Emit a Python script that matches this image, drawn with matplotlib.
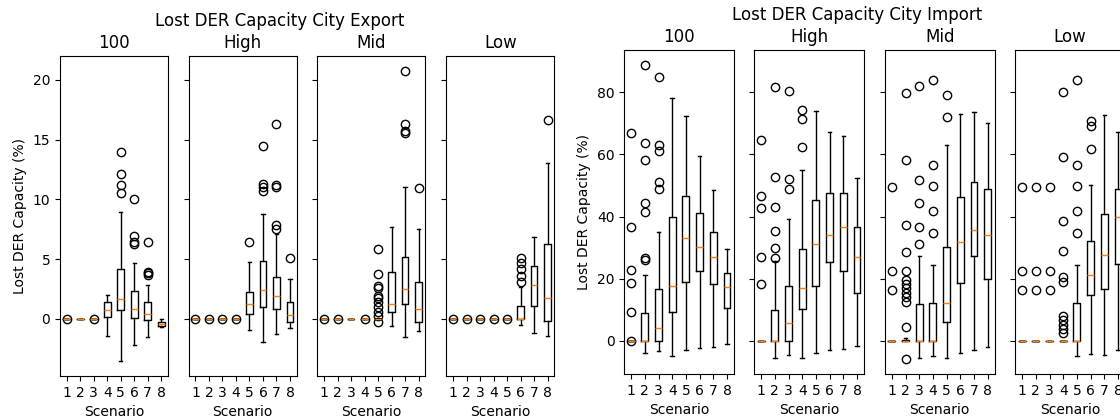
import matplotlib
matplotlib.use("Agg")
import matplotlib.pyplot as plt

# scenarios on the x axis and the four panels of each group
scenarios = [1, 2, 3, 4, 5, 6, 7, 8]
panels = ["100", "High", "Mid", "Low"]

# Lost DER capacity, city export (%), box stats per panel (one value per scenario)
export_q1 = [
    [0, 0, 0, 0.13, 0.75, 0.06, -0.08, -0.59],
    [0, 0, 0, 0, 0.39, 1.0, 0.84, -0.28],
    [0, 0, 0, 0, 0, 0.53, 1.23, -0.25],
    [0, 0, 0, 0, 0, 0, 1.09, -0.22],
]
export_med = [
    [0, 0, 0, 0.7, 1.65, 0.86, 0.42, -0.42],
    [0, 0, 0, 0, 1.26, 2.43, 1.95, 0.28],
    [0, 0, 0, 0, 0, 1.26, 2.48, 0.84],
    [0, 0, 0, 0, 0, 0, 2.79, 1.73],
]
export_q3 = [
    [0, 0, 0, 1.39, 4.13, 2.29, 1.37, -0.25],
    [0, 0, 0, 0, 2.26, 4.85, 3.46, 1.37],
    [0, 0, 0, 0, 0, 3.88, 5.16, 3.04],
    [0, 0, 0, 0, 0, 1.09, 4.38, 6.28],
]
export_lo = [
    [0, 0, 0, -1.46, -3.57, -2.18, -1.56, -0.67],
    [0, 0, 0, 0, -0.95, -1.92, -1.31, -0.73],
    [0, 0, 0, 0, 0, -0.64, -1.53, -1.0],
    [0, 0, 0, 0, 0, -0.56, -1.23, -1.48],
]
export_hi = [
    [0, 0, 0, 1.98, 8.95, 4.69, 2.82, -0.02],
    [0, 0, 0, 0, 4.77, 8.79, 7.14, 3.35],
    [0, 0, 0, 0, 0, 7.7, 11.05, 7.53],
    [0, 0, 0, 0, 0, 2.7, 6.86, 13.0],
]
export_fliers = [
    [[0], [], [0], [], [14.0, 12.16, 11.16, 10.49], [10.0, 6.89, 6.44, 6.25],
     [6.44, 3.93, 3.82, 3.68], []],
    [[0], [0], [0], [0], [6.39], [14.45, 11.3, 11.02, 10.71],
     [16.32, 11.24, 11.07, 7.87, 7.5], [5.08]],
    [[0], [0], [], [0],
     [5.83, 3.71, 2.71, 2.54, 1.92, 1.76, 1.37, 0.95, 0.53, 0.25, -0.25],
     [], [20.78, 16.32, 15.76, 15.56], [10.96]],
    [[0], [0], [0], [0], [0], [5.13, 4.66, 4.16, 3.6, 3.04], [], [16.68]],
]

# Lost DER capacity, city import (%)
import_q1 = [
    [0, 0, 0, 9.1, 18.8, 22.4, 18.4, 10.6],
    [0, 0, 0, 10.2, 17.5, 25.4, 22.4, 15.2],
    [0, 0, 0, 0, 6.1, 18.6, 27.3, 19.8],
    [0, 0, 0, 0, 0, 14.7, 16.6, 24.7],
]
import_med = [
    [0, 0, 4.2, 17.7, 33.1, 30.3, 26.8, 17.2],
    [0, 0, 5.6, 17.0, 31.3, 34.1, 36.7, 26.8],
    [0, 0, 0, 0, 12.2, 31.8, 35.6, 33.9],
    [0, 0, 0, 0, 0, 21.0, 27.6, 39.8],
]
import_q3 = [
    [0, 8.8, 16.7, 40.0, 46.5, 41.1, 34.9, 21.7],
    [0, 10.0, 17.5, 29.4, 45.4, 47.7, 47.7, 36.5],
    [0, 0.3, 11.9, 12.2, 30.3, 46.2, 51.2, 48.9],
    [0, 0, 0, 0, 12.2, 32.2, 40.9, 48.9],
]
import_lo = [
    [0, -4.0, -3.4, -4.8, -3.1, -2.5, -2.0, -1.1],
    [0, -5.5, -4.6, -5.5, -4.0, -2.9, -2.6, -1.7],
    [0, 0, -5.5, -4.8, -5.5, -3.9, -3.1, -2.0],
    [0, 0, 0, 0, -4.8, -4.3, -4.5, -3.0],
]
import_hi = [
    [0, 21.3, 35.1, 78.2, 72.3, 59.4, 48.6, 29.4],
    [0, 25.7, 39.1, 54.9, 73.9, 67.1, 66.0, 52.3],
    [0, 0.8, 27.3, 24.5, 62.9, 73.0, 73.8, 70.1],
    [0, 0, 0, 0, 24.5, 50.2, 72.6, 67.2],
]
import_fliers = [
    [[0, 9.35, 18.5, 22.8, 36.6, 67.0], [26.0, 26.5, 41.6, 44.4, 58.1, 63.7, 88.9],
     [48.8, 51.2, 61.0, 63.1, 84.8], [], [], [], [], []],
    [[18.3, 27.1, 42.8, 46.7, 64.7], [26.5, 29.8, 35.2, 43.0, 52.7, 81.6],
     [48.8, 52.2, 80.5], [62.3, 71.5, 74.2], [], [], [], []],
    [[16.3, 22.3, 49.4],
     [-6.0, 4.3, 12.6, 14.0, 15.5, 16.9, 18.2, 19.6, 22.3, 28.5, 37.2, 58.1, 79.8],
     [31.1, 36.5, 44.2, 51.6, 82.0], [34.6, 41.9, 49.8, 56.5, 83.9],
     [72.2, 79.1], [], [], []],
    [[16.3, 22.3, 49.4], [16.3, 22.3, 49.4], [16.3, 22.3, 49.4],
     [2.4, 3.7, 5.1, 6.5, 8.1, 19.0, 20.4, 29.0, 38.6, 59.1, 80.2],
     [34.6, 41.9, 49.8, 56.5, 83.9], [61.6, 69.2, 70.9], [], []],
]


def box_stats(q1, med, q3, lo, hi, fliers):
    stats = []
    for i in range(len(scenarios)):
        stats.append({"q1": q1[i], "med": med[i], "q3": q3[i],
                      "whislo": lo[i], "whishi": hi[i], "fliers": fliers[i]})
    return stats


fig = plt.figure(figsize=(11.2, 4.2), dpi=100)
W, H = 1120, 420


def draw_group(lefts, width, top, bottom, title, title_x, title_y,
               q1, med, q3, lo, hi, fliers):
    axes = []
    for k, name in enumerate(panels):
        rect = [lefts[k] / W, 1 - bottom / H, width / W, (bottom - top) / H]
        ax = fig.add_axes(rect, sharey=axes[0] if axes else None)
        ax.bxp(box_stats(q1[k], med[k], q3[k], lo[k], hi[k], fliers[k]),
               positions=scenarios)
        ax.set_xticks(scenarios)
        ax.set_xticklabels([str(s) for s in scenarios])
        ax.set_title(name, fontsize=12)
        ax.set_xlabel("Scenario")
        if k == 0:
            ax.set_ylabel("Lost DER Capacity (%)")
        else:
            ax.tick_params(labelleft=False)
        axes.append(ax)
    fig.text(title_x / W, 1 - title_y / H, title, ha="center", va="center",
             fontsize=12)
    return axes


# left group: export
draw_group([60, 188.7, 317.3, 446.3], 108, 56, 376,
           "Lost DER Capacity City Export", 280, 21,
           export_q1, export_med, export_q3, export_lo, export_hi, export_fliers)

# right group: import (last panel runs past the edge, as in the original)
draw_group([624.3, 754.3, 885, 1015.3], 109.5, 50, 374,
           "Lost DER Capacity City Import", 857, 15,
           import_q1, import_med, import_q3, import_lo, import_hi, import_fliers)

fig.savefig("out.png", dpi=100)
